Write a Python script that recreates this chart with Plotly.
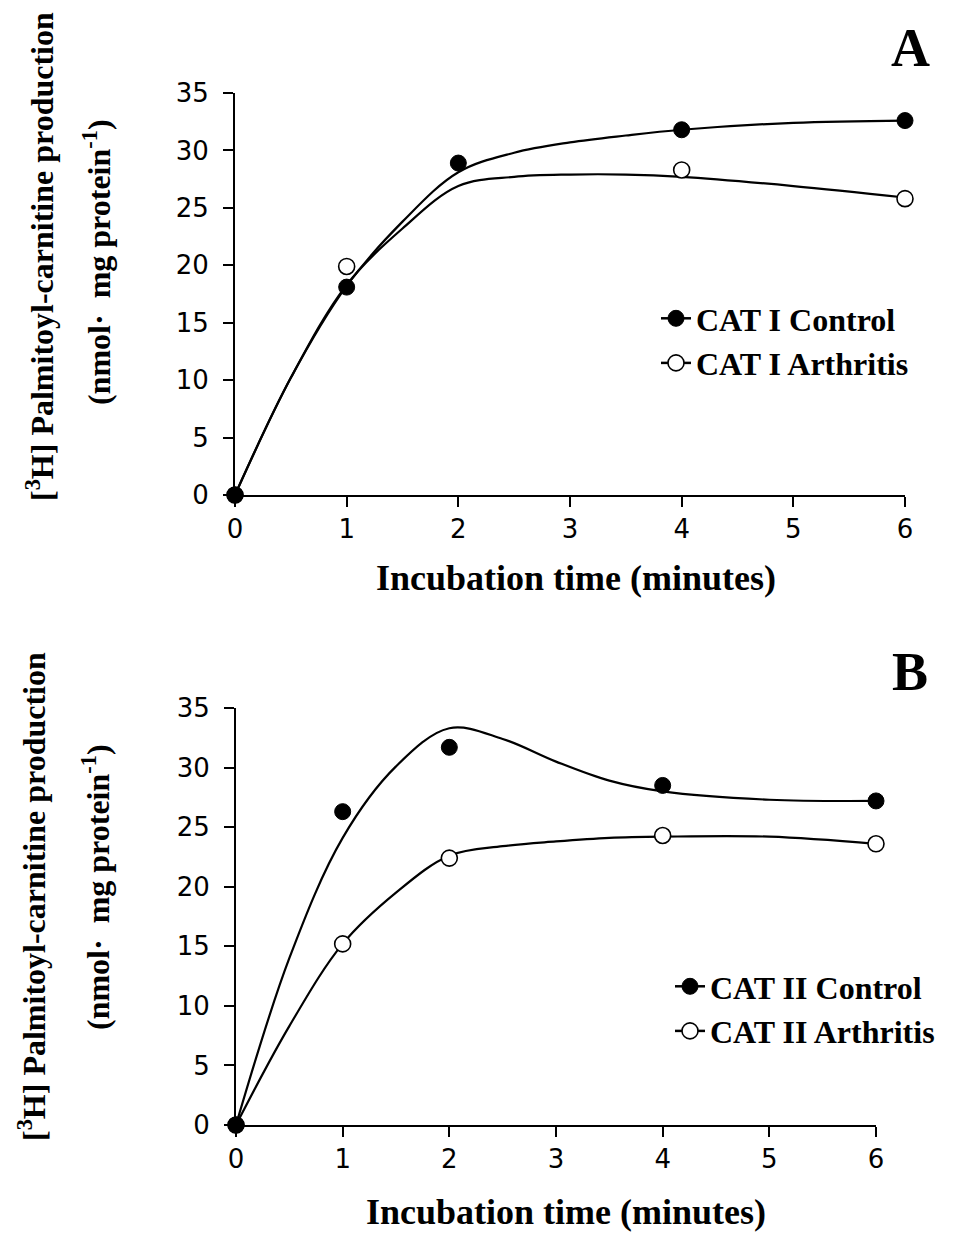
import plotly.graph_objects as go

# Measured time points (minutes)
time = [0, 1, 2, 4, 6]

# Panel A: CAT I activity
cat1_control = [0, 18.1, 28.9, 31.8, 32.6]
cat1_arthritis = [0, 19.9, None, 28.3, 25.8]

# Panel B: CAT II activity
cat2_control = [0, 26.3, 31.7, 28.5, 27.2]
cat2_arthritis = [0, 15.2, 22.4, 24.3, 23.6]

# Smoothed trend curves
fit_time = [0, 0.5, 1, 1.5, 2, 2.5, 3, 3.5, 4, 5, 6]
cat1_control_fit = [0, 10.2, 18.2, 23.8, 28.1, 29.8, 30.7, 31.3, 31.8, 32.4, 32.6]
cat1_arthritis_fit = [0, 10.2, 18.3, 23.2, 26.9, 27.7, 27.9, 27.9, 27.7, 26.9, 25.9]
cat2_control_fit = [0, 14.0, 24.1, 30.1, 33.3, 32.4, 30.5, 28.9, 28.0, 27.3, 27.2]
cat2_arthritis_fit = [0, 8.3, 15.2, 19.5, 22.6, 23.4, 23.8, 24.1, 24.2, 24.2, 23.6]

x_ticks = [0, 1, 2, 3, 4, 5, 6]
y_ticks = [0, 5, 10, 15, 20, 25, 30, 35]

W, H = 972, 1234
SERIF = "Liberation Serif, Times New Roman, serif"
SANS = "DejaVu Sans, Arial, sans-serif"

fig = go.Figure()


def add_panel(xa, ya, legend, ctrl, arth, ctrl_fit, arth_fit, names):
    curve = dict(color="black", width=2.2, shape="spline", smoothing=1.0)
    fig.add_trace(go.Scatter(x=fit_time, y=ctrl_fit, mode="lines", line=curve,
                             xaxis=xa, yaxis=ya, showlegend=False, hoverinfo="skip"))
    fig.add_trace(go.Scatter(x=fit_time, y=arth_fit, mode="lines", line=curve,
                             xaxis=xa, yaxis=ya, showlegend=False, hoverinfo="skip"))
    open_marker = dict(symbol="circle", size=16, color="white", line=dict(color="black", width=1.6))
    filled_marker = dict(symbol="circle", size=16, color="black", line=dict(color="black", width=1))
    # measured points
    fig.add_trace(go.Scatter(x=time, y=arth, mode="markers", marker=open_marker, showlegend=False,
                             cliponaxis=False, xaxis=xa, yaxis=ya, name=names[1]))
    fig.add_trace(go.Scatter(x=time, y=ctrl, mode="markers", marker=filled_marker, showlegend=False,
                             cliponaxis=False, xaxis=xa, yaxis=ya, name=names[0]))
    # legend keys: line through marker
    key_line = dict(color="black", width=2.5)
    fig.add_trace(go.Scatter(x=[None], y=[None], mode="lines+markers", name=names[0], legend=legend,
                             legendrank=1, marker=filled_marker, line=key_line, xaxis=xa, yaxis=ya))
    fig.add_trace(go.Scatter(x=[None], y=[None], mode="lines+markers", name=names[1], legend=legend,
                             legendrank=2, marker=open_marker, line=key_line, xaxis=xa, yaxis=ya))


add_panel("x", "y", "legend", cat1_control, cat1_arthritis, cat1_control_fit, cat1_arthritis_fit,
          ["CAT I Control", "CAT I Arthritis"])
add_panel("x2", "y2", "legend2", cat2_control, cat2_arthritis, cat2_control_fit, cat2_arthritis_fit,
          ["CAT II Control", "CAT II Arthritis"])

axis_common = dict(
    showline=True, linecolor="black", linewidth=2, ticks="outside", ticklen=10, tickwidth=2, tickcolor="black",
    showgrid=False, zeroline=False, tickfont=dict(family=SANS, size=26, color="black"), automargin=False,
)

legend_font = dict(family=SERIF, size=32, color="black", weight="bold")

fig.update_layout(
    width=W, height=H, margin=dict(l=0, r=0, t=0, b=0, autoexpand=False),
    paper_bgcolor="white", plot_bgcolor="white", showlegend=True,
    xaxis=dict(domain=[235 / W, 905 / W], range=[0, 6], tickvals=x_ticks, anchor="y", **axis_common),
    yaxis=dict(domain=[1 - 495 / H, 1 - 93 / H], range=[0, 35], tickvals=y_ticks, anchor="x",
               ticklabelstandoff=9, **axis_common),
    xaxis2=dict(domain=[236 / W, 876 / W], range=[0, 6], tickvals=x_ticks, anchor="y2", **axis_common),
    yaxis2=dict(domain=[1 - 1125 / H, 1 - 708 / H], range=[0, 35], tickvals=y_ticks, anchor="x2",
                ticklabelstandoff=9, **axis_common),
    legend=dict(x=656 / W, y=1 - 291 / H, xanchor="left", yanchor="top", bgcolor="rgba(0,0,0,0)",
                font=legend_font, tracegroupgap=0, itemwidth=30),
    legend2=dict(x=670 / W, y=1 - 959 / H, xanchor="left", yanchor="top", bgcolor="rgba(0,0,0,0)",
                 font=legend_font, tracegroupgap=0, itemwidth=30),
)

ann = []
# x-axis titles
xtitle_font = dict(family=SERIF, size=36, color="black")
ann.append(dict(text="<b>Incubation time (minutes)</b>", x=576 / W, y=1 - 578 / H, xref="paper", yref="paper",
                showarrow=False, font=xtitle_font, xanchor="center", yanchor="middle"))
ann.append(dict(text="<b>Incubation time (minutes)</b>", x=566 / W, y=0, xref="paper", yref="paper",
                showarrow=False, font=xtitle_font, xanchor="center", yanchor="bottom"))
# y-axis titles (two lines each)
ytitle_font = dict(family=SERIF, size=32, color="black")
for cx1, cx2, cy1, cy2 in [(40, 97, 257, 262), (32, 96, 897, 887)]:
    ann.append(dict(text="<b>[<sup>3</sup>H] Palmitoyl-carnitine production</b>", x=cx1 / W, y=1 - cy1 / H,
                    xref="paper", yref="paper", showarrow=False, textangle=-90, font=ytitle_font,
                    xanchor="center", yanchor="middle"))
    ann.append(dict(text="<b>(nmol·  mg protein<sup>-1</sup>)</b>", x=cx2 / W, y=1 - cy2 / H,
                    xref="paper", yref="paper", showarrow=False, textangle=-90, font=ytitle_font,
                    xanchor="center", yanchor="middle"))
# panel letters
letter_font = dict(family=SERIF, size=54, color="black")
ann.append(dict(text="<b>A</b>", x=910 / W, y=1 - 48 / H, xref="paper", yref="paper", showarrow=False,
                font=letter_font, xanchor="center", yanchor="middle"))
ann.append(dict(text="<b>B</b>", x=910 / W, y=1 - 672 / H, xref="paper", yref="paper", showarrow=False,
                font=letter_font, xanchor="center", yanchor="middle"))
fig.update_layout(annotations=ann)

fig.write_html("out.html")
